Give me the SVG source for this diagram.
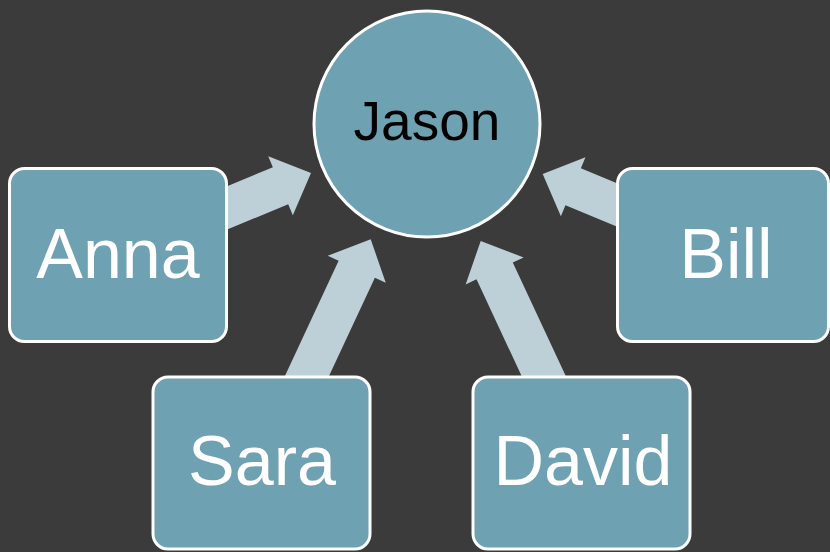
<svg xmlns="http://www.w3.org/2000/svg" width="830" height="552" viewBox="0 0 830 552">
<style>
.node{fill:#6ea1b1;stroke:#ffffff;stroke-width:3}
.lbl{font-family:"Liberation Sans",Arial,sans-serif;font-size:70px;fill:#ffffff;text-anchor:middle}
.arrow{fill:#bdd0d8}
</style>
<defs>
<polygon id="arr" points="0,0 -33,-32 -33,-20 -170,-20 -170,20 -33,20 -33,32"/>
</defs>
<rect x="0" y="0" width="830" height="552" fill="#3b3b3b"/>
<g id="connectors">
<use href="#arr" class="arrow" transform="translate(311,173) rotate(-22.6)"/>
<use href="#arr" class="arrow" transform="translate(542.7,174) rotate(-157.4)"/>
<use href="#arr" class="arrow" transform="translate(370.7,239.3) rotate(-65)"/>
<use href="#arr" class="arrow" transform="translate(480.7,241) rotate(-115)"/>
</g>
<g id="jason">
<circle class="node" cx="427" cy="124" r="113"/>
<text class="lbl" x="427" y="140" style="font-size:55px;fill:#000000">Jason</text>
</g>
<g id="anna">
<rect class="node" x="9.5" y="168.5" width="217" height="173" rx="15"/>
<text class="lbl" x="118" y="278">Anna</text>
</g>
<g id="bill">
<rect class="node" x="617.5" y="168.5" width="211" height="173" rx="15"/>
<text class="lbl" x="726" y="278">Bill</text>
</g>
<g id="sara">
<rect class="node" x="153" y="377" width="217" height="172" rx="15"/>
<text class="lbl" x="262" y="485">Sara</text>
</g>
<g id="david">
<rect class="node" x="473" y="377" width="217" height="172" rx="15"/>
<text class="lbl" x="583" y="485">David</text>
</g>
</svg>
